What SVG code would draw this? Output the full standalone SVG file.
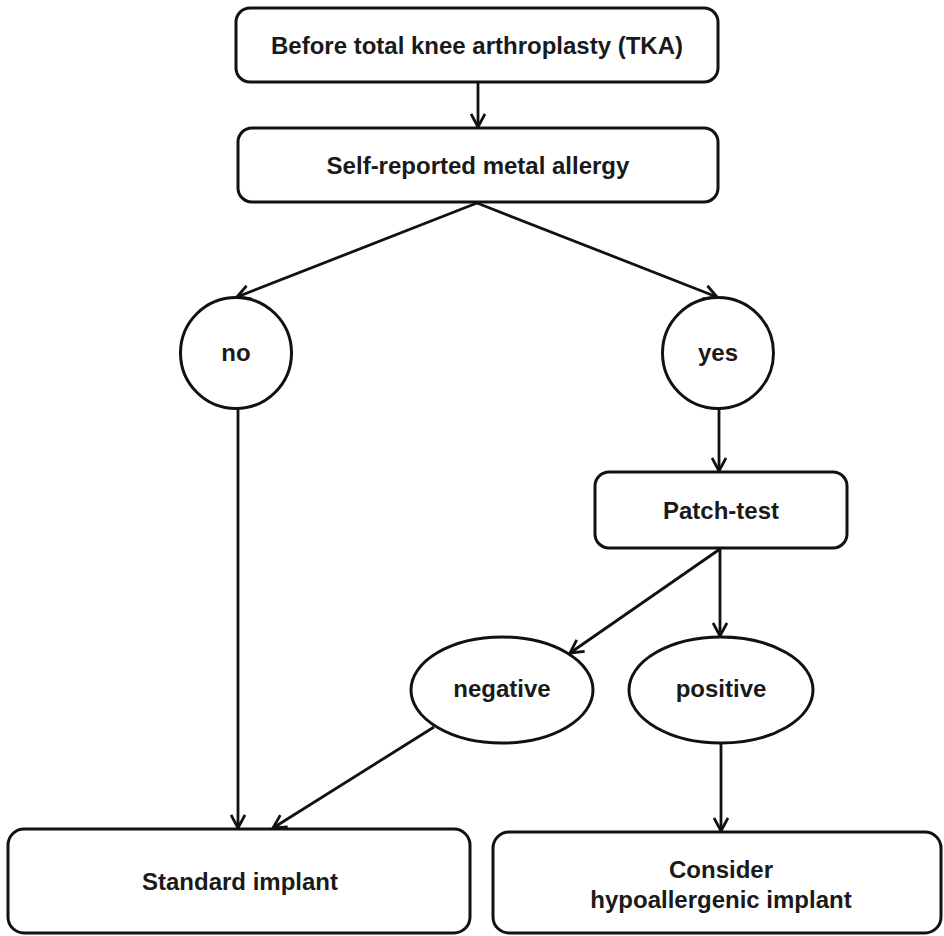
<svg xmlns="http://www.w3.org/2000/svg" width="944" height="936" viewBox="0 0 944 936">
  <defs>
    <style>
      .box { fill: #ffffff; stroke: #111111; stroke-width: 3; }
      .edge { fill: none; stroke: #111111; stroke-width: 2.8; }
      .lbl { font-family: "Liberation Sans", Arial, sans-serif; font-size: 24px; font-weight: bold; fill: #1a1a1a; text-anchor: middle; }
    </style>
    <marker id="arrow" viewBox="0 0 16 16" refX="14" refY="8" markerWidth="16" markerHeight="16" markerUnits="userSpaceOnUse" orient="auto">
      <path d="M1,1 L14,8 L1,15" fill="none" stroke="#111111" stroke-width="2.8" stroke-linejoin="miter"/>
    </marker>
  </defs>
  <rect width="944" height="936" fill="#ffffff"/>

  <!-- connectors -->
  <g id="connectors">
    <line class="edge" x1="478" y1="83" x2="478" y2="127" marker-end="url(#arrow)"/>
    <line class="edge" x1="477" y1="203" x2="237" y2="297" marker-end="url(#arrow)"/>
    <line class="edge" x1="477" y1="203" x2="717" y2="297" marker-end="url(#arrow)"/>
    <line class="edge" x1="238" y1="409" x2="238" y2="828" marker-end="url(#arrow)"/>
    <line class="edge" x1="719" y1="408" x2="719" y2="471" marker-end="url(#arrow)"/>
    <line class="edge" x1="720" y1="549" x2="720" y2="636" marker-end="url(#arrow)"/>
    <line class="edge" x1="720" y1="549" x2="570" y2="653" marker-end="url(#arrow)"/>
    <line class="edge" x1="434" y1="727" x2="273" y2="828" marker-end="url(#arrow)"/>
    <line class="edge" x1="721" y1="743" x2="721" y2="831" marker-end="url(#arrow)"/>
  </g>

  <g id="node-before-tka">
    <rect class="box" x="236" y="8" width="482" height="74" rx="14"/>
    <text class="lbl" x="477" y="54">Before total knee arthroplasty (TKA)</text>
  </g>

  <g id="node-self-reported">
    <rect class="box" x="238" y="128" width="480" height="74" rx="14"/>
    <text class="lbl" x="478" y="174">Self-reported metal allergy</text>
  </g>

  <g id="node-no">
    <circle class="box" cx="236" cy="353" r="55.5"/>
    <text class="lbl" x="236" y="361">no</text>
  </g>

  <g id="node-yes">
    <circle class="box" cx="718" cy="353" r="55.5"/>
    <text class="lbl" x="718" y="361">yes</text>
  </g>

  <g id="node-patch-test">
    <rect class="box" x="595" y="472" width="252" height="76" rx="14"/>
    <text class="lbl" x="721" y="519">Patch-test</text>
  </g>

  <g id="node-negative">
    <ellipse class="box" cx="502" cy="690" rx="91" ry="53"/>
    <text class="lbl" x="502" y="697">negative</text>
  </g>

  <g id="node-positive">
    <ellipse class="box" cx="721" cy="690" rx="92" ry="53"/>
    <text class="lbl" x="721" y="697">positive</text>
  </g>

  <g id="node-standard">
    <rect class="box" x="8" y="829" width="462" height="104" rx="16"/>
    <text class="lbl" x="240" y="890">Standard implant</text>
  </g>

  <g id="node-hypoallergenic">
    <rect class="box" x="493" y="832" width="448" height="101" rx="16"/>
    <text class="lbl" x="721" y="878">Consider</text>
    <text class="lbl" x="721" y="908">hypoallergenic implant</text>
  </g>
</svg>
